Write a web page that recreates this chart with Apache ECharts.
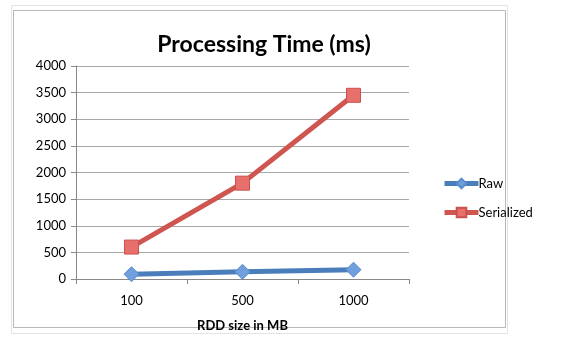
<!DOCTYPE html>
<html>
<head>
<meta charset="utf-8">
<script src="https://cdn.jsdelivr.net/npm/echarts@6/dist/echarts.min.js"></script>
<style>
  html, body { margin: 0; padding: 0; background: #fff; }
  #chart { width: 565px; height: 352px; }
</style>
</head>
<body>
<div id="chart"></div>
<script>
const categories = ['100', '500', '1000']
const rawTimes = [90, 135, 175]
const serializedTimes = [600, 1800, 3450]
const yTicks = [0, 500, 1000, 1500, 2000, 2500, 3000, 3500, 4000]

const chart = echarts.init(document.getElementById('chart'))

const font = 'Lato, "Open Sans", sans-serif'

const option = {
  animation: false,
  backgroundColor: '#fff',
  title: {
    text: 'Processing Time (ms)',
    left: 259,
    top: 28,
    textAlign: 'center',
    textStyle: { fontFamily: font, fontSize: 23, fontWeight: 'bold', color: '#000' },
  },
  graphic: [
    { type: 'rect', shape: { x: 11.5, y: 5.5, width: 496, height: 328 }, style: { fill: 'none', stroke: '#e4e4e4', lineWidth: 1 } },
    { type: 'rect', shape: { x: 13.5, y: 10.5, width: 492, height: 317 }, style: { fill: 'none', stroke: '#b8b8b8', lineWidth: 1 } },
  ],
  grid: { left: 76, right: 156, top: 66, bottom: 73, containLabel: false },
  legend: {
    orient: 'vertical',
    left: 437,
    top: 172,
    itemGap: 16,
    itemWidth: 34,
    itemHeight: 12,
    textStyle: { fontFamily: font, fontSize: 13, color: '#000', padding: [0, 0, 0, -5] },
    data: [
      { name: 'Raw', itemStyle: { color: '#6f9fdc' }, lineStyle: { width: 5, color: '#4a7ebb' } },
      { name: 'Serialized', itemStyle: { color: '#e8706c' }, lineStyle: { width: 5, color: '#cf5650' } },
    ],
  },
  xAxis: {
    type: 'category',
    data: categories,
    name: 'RDD size in MB',
    nameLocation: 'middle',
    nameGap: 40,
    nameTextStyle: { fontFamily: font, fontSize: 13, fontWeight: 'bold', color: '#000' },
    axisLine: { lineStyle: { color: '#888', width: 1 } },
    axisTick: { show: true, length: 5, lineStyle: { color: '#888' } },
    axisLabel: { fontFamily: font, fontSize: 13, color: '#000', margin: 15 },
  },
  yAxis: {
    type: 'value',
    min: yTicks[0],
    max: yTicks[yTicks.length - 1],
    interval: 500,
    axisLine: { show: true, lineStyle: { color: '#888', width: 1 } },
    axisTick: { show: true, length: 5, lineStyle: { color: '#888' } },
    axisLabel: { fontFamily: font, fontSize: 13, color: '#000', margin: 10, formatter: v => String(v) },
    splitLine: { lineStyle: { color: '#a8a8a8', width: 1 } },
  },
  series: [
    {
      name: 'Raw',
      type: 'line',
      data: rawTimes,
      symbol: 'diamond',
      symbolSize: 15,
      lineStyle: { color: '#4a7ebb', width: 5 },
      itemStyle: { color: '#6f9fdc', borderColor: '#5b8dd0', borderWidth: 1 },
    },
    {
      name: 'Serialized',
      type: 'line',
      data: serializedTimes,
      symbol: 'rect',
      symbolSize: 14,
      lineStyle: { color: '#cf5650', width: 5 },
      itemStyle: { color: '#e8706c', borderColor: '#c9524d', borderWidth: 1 },
    },
  ],
}

chart.setOption(option)
</script>
</body>
</html>
